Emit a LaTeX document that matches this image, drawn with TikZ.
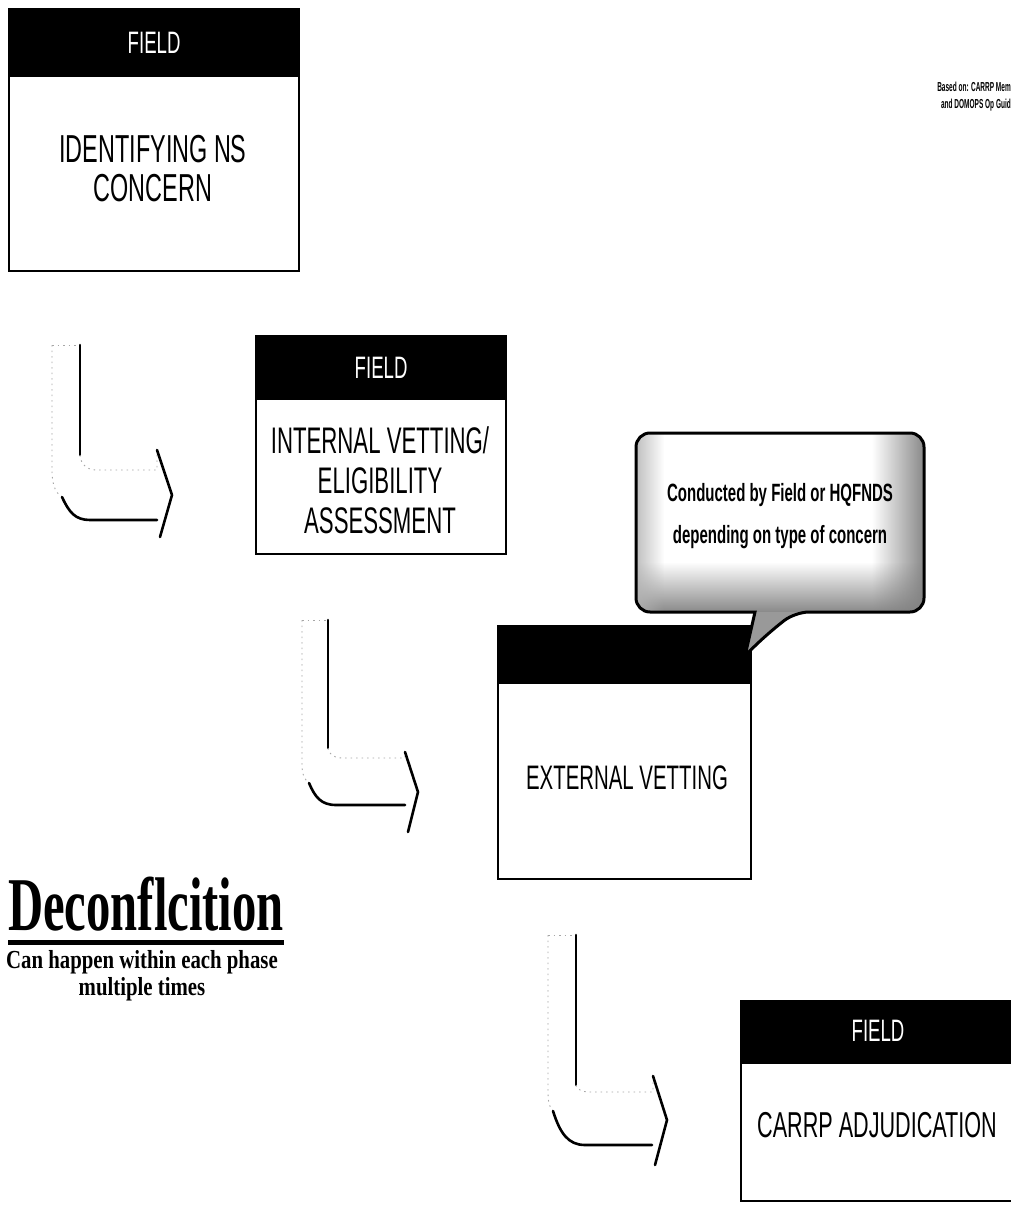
\documentclass[tikz,border=0pt]{standalone}
\usepackage{fontspec}
\setmainfont{Liberation Sans}
\newfontfamily\condsans[FakeStretch=0.6]{Liberation Sans}
\newfontfamily\srcsans[FakeStretch=0.5]{Liberation Sans}
\newfontfamily\condserif[FakeStretch=0.64]{Liberation Serif}
\newfontfamily\noteserif[FakeStretch=0.8]{Liberation Serif}
\usetikzlibrary{fadings}
\tikzfading[name=fadetoright, left color=transparent!100, right color=transparent!0]
\tikzfading[name=fadetobottom, top color=transparent!100, bottom color=transparent!0]
\tikzfading[name=fadetoleft, left color=transparent!0, right color=transparent!100]
\newcommand\calloutshape{[rounded corners=14pt] (636,524) -- (636,433) -- (924,433) -- (924,612) -- (795,612) [sharp corners] .. controls (776,627) and (760,640) .. (745,656) -- (755,612) [rounded corners=14pt] -- (636,612) -- cycle}
\begin{document}
\begin{tikzpicture}[x=1pt,y=-1pt,
  phasebox/.style={draw=black, line width=2.2pt, fill=white, inner sep=0pt, anchor=north west},
  phasehead/.style={draw=black, line width=2.2pt, fill=black, inner sep=0pt, anchor=north west},
  headtext/.style={text=white, inner sep=0pt, font=\condsans\fontsize{31}{36}\selectfont},
  phasetext/.style={align=center, inner sep=0pt},
  arrowbold/.style={line width=2.6pt, line cap=round, line join=round, black},
  arrowfaint/.style={line width=0.9pt, black!35, dash pattern=on 1.5pt off 4pt},
  notetext/.style={anchor=east, inner sep=0pt, font=\srcsans\bfseries\fontsize{13}{14}\selectfont}
]
\path[fill=white, use as bounding box] (0,0) rectangle (1011,1209);
\clip (0,0) rectangle (1011,1209);

% --- top-right source note
\node[notetext] (src1) at (1011,87) {Based on: CARRP Mem};
\node[notetext] (src2) at (1011,105) {and DOMOPS Op Guid};

% --- box 1
\node[phasebox, minimum width=290, minimum height=262] (b1) at (8,8) {};
\node[phasehead, minimum width=290, minimum height=67] (h1) at (8,8) {};
\node[headtext] (f1) at (h1.center) {FIELD};
\node[phasetext, font=\condsans\fontsize{39}{39}\selectfont] (t1) at (153,169) {IDENTIFYING NS\\CONCERN};

% --- box 2
\node[phasebox, minimum width=250, minimum height=218] (b2) at (255,335) {};
\node[phasehead, minimum width=250, minimum height=63] (h2) at (255,335) {};
\node[headtext] (f2) at (h2.center) {FIELD};
\node[phasetext, font=\condsans\fontsize{37}{40}\selectfont] (t2) at (380,480) {INTERNAL VETTING/\\ELIGIBILITY\\ASSESSMENT};

% --- box 3
\node[phasebox, minimum width=253, minimum height=253] (b3) at (497,625) {};
\node[phasehead, minimum width=253, minimum height=57] (h3) at (497,625) {};
\node[phasetext, font=\condsans\fontsize{34}{38}\selectfont] (t3) at (627,778) {EXTERNAL VETTING};

% --- box 4
\node[phasebox, minimum width=300, minimum height=200] (b4) at (740,1000) {};
\node[phasehead, minimum width=300, minimum height=62] (h4) at (740,1000) {};
\node[headtext] (f4) at (878,1031) {FIELD};
\node[phasetext, anchor=west, font=\condsans\fontsize{36}{40}\selectfont] (t4) at (757,1125) {CARRP ADJUDICATION};

% --- callout
\path[fill=white] \calloutshape;
\begin{scope}
  \clip \calloutshape;
  \fill[black!50, path fading=fadetoright] (872,428) rectangle (928,616);
  \fill[black!50, path fading=fadetobottom] (630,562) rectangle (928,616);
  \fill[black!30, path fading=fadetoleft] (630,428) rectangle (664,616);
  \fill[black!40] (630,612) rectangle (928,662);
\end{scope}
\draw[line width=3pt] \calloutshape;
\node[align=center, inner sep=0pt, font=\condsans\bfseries\fontsize{25}{42}\selectfont] (ct) at (780,516) {Conducted by Field or HQFNDS\\depending on type of concern};

% --- bent arrow 1
\draw[arrowfaint] (52,345) -- (80,345);
\draw[arrowfaint] (52,345) -- (52,470) .. controls (52,486) and (56,493) .. (62,497);
\draw[arrowbold] (80,345) -- (80,455);
\draw[arrowfaint] (80,455) .. controls (81,465) and (87,470) .. (97,470) -- (157,470) -- (157,450);
\draw[arrowbold] (62,497) .. controls (69,512) and (75,520) .. (90,520) -- (157,520);
\draw[arrowbold] (157,450) -- (172,495) -- (160,537);

% --- bent arrow 2
\draw[arrowfaint] (302,620) -- (328,620);
\draw[arrowfaint] (302,620) -- (302,765) .. controls (302,775) and (305,780) .. (309,783);
\draw[arrowbold] (328,620) -- (328,748);
\draw[arrowfaint] (328,748) .. controls (329,754) and (333,758) .. (342,758) -- (405,758) -- (405,752);
\draw[arrowbold] (309,783) .. controls (315,797) and (321,805) .. (336,805) -- (405,805);
\draw[arrowbold] (405,752) -- (418,792) -- (408,832);

% --- bent arrow 3
\draw[arrowfaint] (548,935) -- (576,935);
\draw[arrowfaint] (548,935) -- (548,1093) .. controls (548,1103) and (550,1108) .. (553,1111);
\draw[arrowbold] (576,935) -- (576,1085);
\draw[arrowfaint] (576,1085) .. controls (577,1089) and (581,1092) .. (590,1092) -- (653,1092) -- (653,1076);
\draw[arrowbold] (553,1111) .. controls (560,1133) and (568,1145) .. (585,1145) -- (652,1145);
\draw[arrowbold] (653,1076) -- (667,1120) -- (655,1165);

% --- Deconfliction note
\node[inner sep=0pt, anchor=base west, font=\condserif\bfseries\fontsize{76}{80}\selectfont] (dec) at (8,930) {Deconflcition};
\draw[line width=5pt] (dec.base west) ++(0,12) coordinate (ul1) -- ++(276,0) coordinate (ul2);
\node[inner sep=0pt, align=center, font=\noteserif\bfseries\fontsize{26}{27}\selectfont] (decnote) at (142,976) {Can happen within each phase\\multiple times};
\end{tikzpicture}
\end{document}
